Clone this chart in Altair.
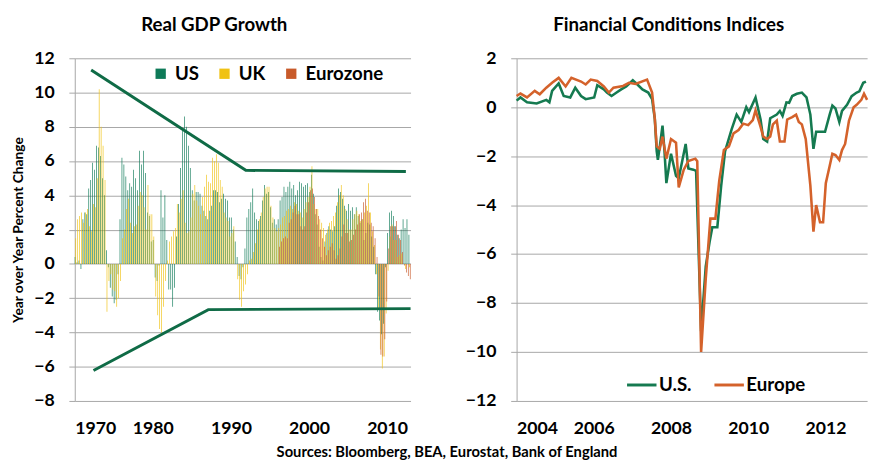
import altair as alt
import pandas as pd

# ---------------- Real GDP growth (YoY %, quarterly 1970Q1..2012Q4) ----------------
us_gdp = [
    0.4, 0.1, 0.2, -0.3,   2.6, 3.0, 2.9, 4.4,   4.9, 5.9, 5.5, 6.9,   6.8, 6.3, 5.0, 4.0,
    0.8, -0.2, -1.4, -1.9, -2.3, -2.1, -0.6, 2.6, 6.2, 5.8, 5.1, 4.3,  4.7, 4.5, 5.5, 5.0,
    4.3, 6.6, 5.8, 6.6,    5.3, 3.0, 2.8, 1.3,   1.4, -0.8, -1.0, -0.1, 4.3, 2.7, 4.0, 1.4,
    -1.5, -1.5, -2.5, -1.4, 1.6, 3.5, 5.6, 7.8,  8.6, 8.0, 6.9, 5.6,   4.3, 3.7, 4.2, 4.2,
    4.1, 3.4, 3.1, 2.8,    2.6, 3.1, 3.4, 4.3,   4.3, 4.2, 3.6, 3.8,   4.1, 3.8, 3.7, 2.7,
    2.7, 2.0, 1.3, 0.4,    -0.7, -0.9, -0.2, 0.9, 2.7, 3.2, 3.6, 4.4,  3.0, 2.6, 2.5, 2.8,
    3.7, 4.6, 4.1, 4.2,    3.3, 2.4, 2.6, 2.3,   2.6, 3.7, 3.9, 4.5,   4.2, 4.5, 4.8, 4.4,
    4.6, 4.0, 4.3, 4.8,    4.7, 4.5, 4.6, 4.7,   4.2, 5.2, 4.1, 2.9,   2.3, 1.0, 0.4, 0.2,
    1.3, 1.8, 2.2, 2.0,    1.9, 2.2, 3.4, 4.4,   4.2, 3.8, 3.4, 3.1,   3.5, 3.1, 3.3, 2.9,
    3.3, 2.8, 2.4, 2.6,    1.4, 1.8, 2.4, 2.3,   1.6, 1.0, -0.6, -2.8, -3.3, -4.1, -3.5, -0.2,
    1.8, 3.0, 3.1, 2.8,    2.2, 1.7, 1.5, 2.0,   2.6, 2.1, 2.6, 1.7,
]
uk_gdp = [
    1.5, 2.6, 2.8, 3.0,    2.4, 3.0, 3.2, 2.2,   1.9, 3.5, 3.3, 5.0,   10.2, 8.0, 6.9, 4.9,
    -2.8, -1.0, -0.6, -1.5, -1.6, -2.5, -2.0, -1.0, 1.5, 2.0, 3.2, 3.8, 2.4, 1.8, 2.2, 2.3,
    3.4, 4.2, 4.0, 3.3,    2.0, 4.6, 2.9, 2.9,   1.6, -1.9, -3.0, -3.8, -4.0, -2.5, -1.0, 0.2,
    1.3, 1.6, 1.9, 2.1,    3.5, 3.0, 3.8, 4.3,   2.4, 1.8, 1.9, 2.7,   4.1, 4.6, 3.7, 3.4,
    2.9, 3.9, 4.5, 5.2,    4.8, 4.7, 6.2, 6.0,   6.4, 5.9, 4.9, 4.5,   3.0, 2.7, 2.5, 1.6,
    1.8, 2.2, 0.0, -0.9,   -2.1, -2.5, -1.6, -1.2, -0.6, 0.2, 0.3, 0.7, 1.2, 2.0, 2.6, 3.0,
    3.9, 4.4, 4.5, 4.5,    3.4, 2.7, 2.1, 1.9,   2.1, 2.3, 2.7, 2.8,   3.1, 3.2, 3.4, 3.2,
    3.6, 3.5, 3.1, 3.0,    2.7, 3.2, 3.6, 3.9,   4.5, 5.7, 3.5, 3.2,   3.2, 2.6, 2.4, 2.1,
    1.7, 2.0, 2.4, 2.5,    2.8, 3.0, 3.6, 4.0,   4.6, 4.0, 3.2, 2.6,   2.0, 2.0, 2.6, 2.9,
    3.1, 2.9, 2.5, 2.6,    3.0, 3.4, 4.7, 3.0,   1.9, 1.1, -0.6, -2.6, -5.0, -6.1, -5.4, -2.9,
    -0.4, 1.6, 2.3, 1.4,   1.4, 0.4, 0.5, 0.6,   0.0, -0.3, 0.0, -0.2,
]
ez_first_year = 1996
ez_gdp = [
    1.0, 1.3, 1.5, 1.6,    1.5, 2.4, 2.6, 3.0,   3.4, 2.9, 2.9, 2.2,   2.0, 2.2, 3.0, 3.6,
    4.3, 4.4, 3.9, 3.2,    2.8, 2.0, 1.5, 1.0,   0.5, 0.8, 1.0, 1.2,   0.8, 0.3, 0.5, 0.9,
    1.6, 2.3, 1.8, 1.8,    1.3, 1.4, 1.7, 2.0,   2.3, 2.9, 3.0, 3.6,   3.8, 3.1, 3.0, 2.4,
    2.2, 1.5, 0.4, -1.9,   -5.3, -5.4, -4.4, -2.2, 0.9, 2.2, 2.2, 2.2, 2.5, 1.7, 1.4, 0.7,
    -0.1, -0.5, -0.7, -0.9,
]
gdp_series = ["US", "UK", "Eurozone"]
gdp_colors = ["#0e7a58", "#f0c214", "#c85a2a"]

# trend lines (decimal year, % value)
upper_t = [1972.1, 1991.9, 2012.4]
upper_v = [11.31, 5.46, 5.39]
lower_t = [1972.4, 1987.1, 2013.0]
lower_v = [-6.22, -2.67, -2.61]

# ---------------- Financial conditions indices ----------------
fci_us_t = [2004.00, 2004.10, 2004.27, 2004.52, 2004.77, 2004.85, 2004.92, 2005.09, 2005.22,
            2005.39, 2005.52, 2005.67, 2005.79, 2006.01, 2006.09, 2006.26, 2006.34, 2006.46,
            2006.59, 2006.71, 2006.84, 2007.01, 2007.13, 2007.26, 2007.41, 2007.51, 2007.58,
            2007.63, 2007.66, 2007.71, 2007.78, 2007.83, 2007.88, 2008.00, 2008.13, 2008.20,
            2008.38, 2008.45, 2008.58, 2008.65, 2008.78, 2008.90, 2009.00, 2009.07, 2009.20,
            2009.30, 2009.40, 2009.57, 2009.70, 2009.82, 2009.95, 2010.02, 2010.19, 2010.32,
            2010.39, 2010.49, 2010.57, 2010.74, 2010.82, 2010.89, 2010.99, 2011.06, 2011.14,
            2011.26, 2011.39, 2011.51, 2011.61, 2011.69, 2011.76, 2011.86, 2011.99, 2012.11,
            2012.18, 2012.26, 2012.36, 2012.43, 2012.56, 2012.68, 2012.81, 2012.88, 2012.98,
            2013.05]
fci_us_v = [0.27, 0.4, 0.2, 0.15, 0.3, 0.2, 0.67, 0.97, 0.46,
            0.4, 0.8, 0.46, 0.33, 0.4, 0.9, 0.73, 0.6, 0.46,
            0.6, 0.73, 0.85, 1.1, 0.93, 0.73, 0.6, 0.33, -0.47,
            -1.8, -2.15, -1.6, -0.75, -1.75, -3.1, -1.9, -2.8, -2.9,
            -1.5, -2.5, -2.55, -2.6, -9.15, -6.5, -5.5, -4.9, -4.9,
            -3.2, -1.8, -0.9, -0.3, -0.6, 0.0, -0.2, 0.4, -0.5,
            -1.3, -1.4, -0.45, -0.3, -0.15, -0.35, 0.2, 0.18, 0.46,
            0.55, 0.6, 0.4, -0.3, -1.7, -1.0, -1.0, -1.0, -0.3,
            0.07, -0.05, -0.6, -0.15, 0.1, 0.45, 0.6, 0.65, 1.0,
            1.05]
fci_eu_t = [2004.00, 2004.10, 2004.27, 2004.47, 2004.60, 2004.77, 2004.92, 2005.09, 2005.27,
            2005.42, 2005.67, 2005.79, 2005.92, 2006.09, 2006.26, 2006.39, 2006.51, 2006.76,
            2006.91, 2007.08, 2007.38, 2007.51, 2007.58, 2007.63, 2007.71, 2007.78, 2007.88,
            2008.00, 2008.13, 2008.20, 2008.33, 2008.45, 2008.63, 2008.68, 2008.78, 2008.90,
            2009.02, 2009.15, 2009.25, 2009.37, 2009.50, 2009.62, 2009.75, 2009.87, 2010.00,
            2010.12, 2010.19, 2010.32, 2010.39, 2010.49, 2010.57, 2010.64, 2010.74, 2010.82,
            2010.94, 2011.01, 2011.14, 2011.24, 2011.31, 2011.39, 2011.49, 2011.61, 2011.69,
            2011.76, 2011.86, 2011.94, 2012.01, 2012.11, 2012.18, 2012.26, 2012.36, 2012.43,
            2012.51, 2012.61, 2012.73, 2012.81, 2012.93, 2013.00, 2013.08]
fci_eu_v = [0.46, 0.56, 0.4, 0.67, 0.53, 0.8, 1.0, 1.2, 0.85,
            1.2, 1.05, 0.93, 1.13, 1.07, 0.85, 0.6, 0.8, 0.87,
            1.0, 0.95, 1.13, 0.6, -0.47, -1.6, -1.7, -1.2, -2.1,
            -1.3, -1.45, -3.28, -2.55, -2.2, -2.1, -2.2, -10.0, -7.0,
            -4.55, -4.55, -3.0, -1.75, -1.6, -1.07, -0.93, -0.67, -0.73,
            -0.53, -0.13, -0.8, -1.2, -1.3, -1.2, -0.7, -0.55, -1.4,
            -1.4, -0.5, -0.4, -0.3, -0.6, -0.7, -1.3, -3.2, -5.08,
            -4.0, -4.7, -4.7, -3.1, -2.4, -1.9, -1.95, -2.15, -1.75,
            -1.5, -0.55, 0.0, 0.1, 0.3, 0.55, 0.3]
fci_names = ["U.S.", "Europe"]
fci_colors = ["#157a50", "#d4622b"]

# ---------------- tables ----------------
rows = []
for name, vals, start in [("US", us_gdp, 1970), ("UK", uk_gdp, 1970), ("Eurozone", ez_gdp, ez_first_year)]:
    for i, v in enumerate(vals):
        rows.append({"t": start + i / 4.0, "value": v, "series": name})
gdp_df = pd.DataFrame(rows)

trend_df = pd.DataFrame(
    [{"x0": t, "value": v, "line": "upper"} for t, v in zip(upper_t, upper_v)]
    + [{"x0": t, "value": v, "line": "lower"} for t, v in zip(lower_t, lower_v)]
)
us_df = pd.DataFrame({"t": fci_us_t, "v": fci_us_v, "index": "U.S."})
eu_df = pd.DataFrame({"t": fci_eu_t, "v": fci_eu_v, "index": "Europe"})

GRID = "#a6a6a6"
LABEL = dict(labelFontSize=18, labelFontWeight="bold", labelColor="#000000", labelFont="Lato")

# ---------------- left panel ----------------
x_left = alt.X("x0:Q", scale=alt.Scale(domain=[1970, 2013], nice=False, zero=False),
               axis=alt.Axis(values=[1970, 1980, 1990, 2000, 2010], format="d", title=None,
                             grid=False, ticks=False, domain=False, labelPadding=19, **LABEL))
y_left = alt.Y("value:Q", scale=alt.Scale(domain=[-8, 12], nice=False), stack=None,
               axis=alt.Axis(values=list(range(-8, 13, 2)), title="Year over Year Percent Change",
                             titleFontSize=14, titleFontWeight="bold", titleFont="Lato", titleColor="#000000",
                             titleLimit=600, titlePadding=8, grid=True, gridColor=GRID, domainColor=GRID,
                             tickColor=GRID, tickSize=6, labelPadding=15, **LABEL))

bars = (
    alt.Chart(gdp_df)
    .transform_calculate(slot="indexof(['US','UK','Eurozone'], datum.series)")
    .transform_calculate(x0="datum.t + datum.slot / 12", x1="datum.t + (datum.slot + 1) / 12")
    .mark_bar()
    .encode(
        x=x_left,
        x2="x1:Q",
        y=y_left,
        y2=alt.datum(0),
        color=alt.Color("series:N", scale=alt.Scale(domain=gdp_series, range=gdp_colors),
                        legend=alt.Legend(orient="none", legendX=78, legendY=6, direction="horizontal",
                                          title=None, symbolType="square", symbolSize=110,
                                          symbolOpacity=1, labelFontSize=19, labelFontWeight="bold",
                                          labelFont="Lato", labelColor="#000000", columnPadding=16,
                                          labelOffset=5)),
    )
)

trends = (
    alt.Chart(trend_df)
    .mark_line(color="#0f6b46", strokeWidth=3)
    .encode(x=x_left, y=y_left, detail="line:N")
)

left = alt.layer(bars, trends).properties(
    width=342, height=349,
    title=alt.TitleParams("Real GDP Growth", fontSize=19, fontWeight="bold", font="Lato",
                          color="#000000", anchor="middle", frame="bounds", offset=15),
)

# ---------------- right panel ----------------
x_right = alt.X("t:Q", scale=alt.Scale(domain=[2004, 2013.08], nice=False, zero=False),
                axis=alt.Axis(values=[2004, 2006, 2008, 2010, 2012], format="d", title=None,
                              grid=False, ticks=False, domain=False, labelPadding=19, **LABEL))
y_right = alt.Y("v:Q", scale=alt.Scale(domain=[-12, 2], nice=False),
                axis=alt.Axis(values=list(range(-12, 3, 2)), title=None, grid=True, gridColor=GRID,
                              domainColor=GRID, tickColor=GRID, tickSize=6, labelPadding=15, **LABEL))
color_right = alt.Color("index:N", scale=alt.Scale(domain=fci_names, range=fci_colors),
                        legend=alt.Legend(orient="none", legendX=111, legendY=316, direction="horizontal",
                                          title=None, symbolType="stroke", symbolSize=900,
                                          symbolStrokeWidth=3, labelFontSize=19, labelFontWeight="bold",
                                          labelFont="Lato", labelColor="#000000", columnPadding=16,
                                          labelOffset=1))

us_line = alt.Chart(us_df).mark_line(strokeWidth=2.6).encode(x=x_right, y=y_right, color=color_right)
eu_line = alt.Chart(eu_df).mark_line(strokeWidth=2.6).encode(x=x_right, y=y_right, color=color_right)

right = alt.layer(us_line, eu_line).properties(
    width=357, height=349,
    title=alt.TitleParams("Financial Conditions Indices", fontSize=19, fontWeight="bold", font="Lato",
                          color="#000000", anchor="middle", frame="bounds", offset=15),
)

chart = (
    alt.hconcat(left, right, spacing=49)
    .resolve_scale(color="independent", x="independent", y="independent")
    .properties(
        title=alt.TitleParams("Sources: Bloomberg, BEA, Eurostat, Bank of England", orient="bottom",
                              anchor="middle", fontSize=15, fontWeight="bold", font="Lato",
                              color="#000000", offset=8, dx=5),
        padding={"left": 4, "top": 4, "right": 0, "bottom": 0},
    )
    .configure(font="Lato", background="#ffffff")
    .configure_view(stroke=None)
)

chart.save("out.html", embed_options={"renderer": "svg", "actions": False})
